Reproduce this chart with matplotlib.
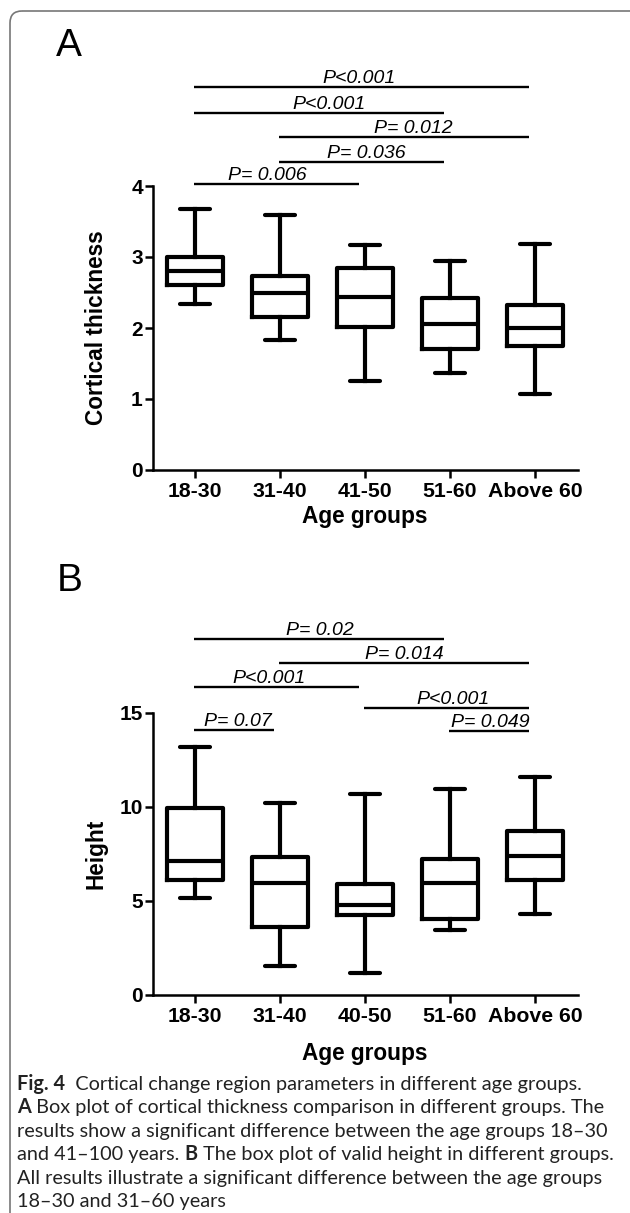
import matplotlib.pyplot as plt
from matplotlib.patches import FancyBboxPatch

plt.rcParams['font.family'] = ['Liberation Sans', 'DejaVu Sans']

W, H = 630, 1213

# ---- panel A: cortical thickness ----
groups_a = ["18-30", "31-40", "41-50", "51-60", "Above 60"]
thick_lo = [2.34, 1.83, 1.25, 1.37, 1.07]
thick_q1 = [2.60, 2.15, 2.02, 1.71, 1.74]
thick_med = [2.80, 2.49, 2.44, 2.06, 2.00]
thick_q3 = [3.00, 2.73, 2.84, 2.42, 2.33]
thick_hi = [3.67, 3.59, 3.17, 2.94, 3.18]

sig_a_from = [1, 1, 2, 2, 1]
sig_a_to = [5, 4, 5, 4, 3]
sig_a_y = [5.40, 5.03, 4.69, 4.34, 4.03]
sig_a_text = ["P<0.001", "P<0.001", "P= 0.012", "P= 0.036", "P= 0.006"]
sig_a_textx = [2.93, 2.58, 3.57, 3.02, 1.85]

# ---- panel B: height ----
groups_b = ["18-30", "31-40", "40-50", "51-60", "Above 60"]
height_lo = [5.16, 1.54, 1.17, 3.47, 4.31]
height_q1 = [6.13, 3.60, 4.27, 4.04, 6.13]
height_med = [7.14, 5.94, 4.80, 5.96, 7.38]
height_q3 = [9.95, 7.32, 5.90, 7.23, 8.74]
height_hi = [13.17, 10.18, 10.67, 10.96, 11.58]

sig_b_from = [1, 2, 1, 3, 1, 4]
sig_b_to = [4, 5, 3, 5, 2, 5]
sig_b_y = [18.94, 17.64, 16.37, 15.23, 14.08, 14.03]
sig_b_text = ["P= 0.02", "P= 0.014", "P<0.001", "P<0.001", "P= 0.07", "P= 0.049"]
sig_b_textx = [2.47, 3.46, 1.87, 4.03, 1.51, 4.48]

caption = [
    [("Fig. 4", "bold"), ("  Cortical change region parameters in different age groups.", "normal")],
    [("A", "bold"), (" Box plot of cortical thickness comparison in different groups. The", "normal")],
    [("results show a significant difference between the age groups 18\u201330", "normal")],
    [("and 41\u2013100 years. ", "normal"), ("B", "bold"), (" The box plot of valid height in different groups.", "normal")],
    [("All results illustrate a significant difference between the age groups", "normal")],
    [("18\u201330 and 31\u201360 years", "normal")],
]


def box_panel(rect, labels, lo, q1, med, q3, hi, ylim, yticks, ylabel,
              s_from, s_to, s_y, s_text, s_x, xlabel_y):
    ax = fig.add_axes(rect)
    stats = []
    for i in range(len(labels)):
        stats.append(dict(whislo=lo[i], q1=q1[i], med=med[i], q3=q3[i],
                          whishi=hi[i], fliers=[]))
    lw = 3.0
    ax.bxp(stats, positions=range(1, len(labels) + 1), widths=0.65,
           capwidths=0.36, showfliers=False,
           boxprops=dict(color='black', linewidth=lw),
           medianprops=dict(color='black', linewidth=lw),
           whiskerprops=dict(color='black', linewidth=lw),
           capprops=dict(color='black', linewidth=lw, solid_capstyle='round'))
    ax.set_xlim(0.5, 5.5)
    ax.set_ylim(*ylim)
    ax.set_yticks(yticks)
    ax.set_xticks(range(1, len(labels) + 1))
    ax.set_xticklabels(labels, fontsize=15.3, fontweight='bold')
    for t in ax.get_yticklabels():
        t.set_fontsize(15)
        t.set_fontweight('bold')
    for s in ['top', 'right']:
        ax.spines[s].set_visible(False)
    for s in ['left', 'bottom']:
        ax.spines[s].set_linewidth(1.8)
    ax.tick_params(axis='both', direction='out', length=5.5, width=1.8)
    ax.tick_params(axis='y', pad=1.5)
    ax.tick_params(axis='x', pad=3)
    ax.set_ylabel(ylabel, fontsize=16.3, fontweight='bold')
    ax.yaxis.set_label_coords(-0.105, 0.5)
    ax.set_xlabel("Age groups", fontsize=16.3, fontweight='bold')
    ax.xaxis.set_label_coords(0.5, xlabel_y)

    for a, b, y, txt, tx in zip(s_from, s_to, s_y, s_text, s_x):
        ax.plot([a - 0.01, b - 0.07], [y, y], color='black', lw=1.7,
                clip_on=False, solid_capstyle='butt')
        ax.text(tx, y, txt, ha='center', va='bottom', fontsize=14,
                style='italic', clip_on=False)
    return ax


fig = plt.figure(figsize=(W / 100, H / 100), dpi=100)

bg = fig.add_axes([0, 0, 1, 1])
bg.set_xlim(0, W)
bg.set_ylim(H, 0)
bg.axis('off')
bg.add_patch(FancyBboxPatch((10, 11), 700, 1300,
                            boxstyle="round,pad=0,rounding_size=12",
                            ec='#777777', fc='none', lw=1.2))

bg.text(56, 56, "A", fontsize=28, va='baseline', ha='left')
bg.text(57, 591, "B", fontsize=28, va='baseline', ha='left')

box_panel([152.5 / W, 1 - 470 / H, 425 / W, 284 / H], groups_a,
          thick_lo, thick_q1, thick_med, thick_q3, thick_hi,
          (0, 4), [0, 1, 2, 3, 4], "Cortical thickness",
          sig_a_from, sig_a_to, sig_a_y, sig_a_text, sig_a_textx, -0.125)

box_panel([152.5 / W, 1 - 995 / H, 425 / W, 282.3 / H], groups_b,
          height_lo, height_q1, height_med, height_q3, height_hi,
          (0, 15), [0, 5, 10, 15], "Height",
          sig_b_from, sig_b_to, sig_b_y, sig_b_text, sig_b_textx, -0.165)

# caption, mixing bold and regular runs on the same line
renderer = fig.canvas.get_renderer()
y = 1090
for line in caption:
    x = 17
    for txt, weight in line:
        t = bg.text(x, y, txt, fontsize=14.3, fontweight=weight,
                    family=['Lato', 'DejaVu Sans'], va='baseline', ha='left',
                    color='#222222')
        x = t.get_window_extent(renderer).x1
    y += 23.4

fig.savefig("out.png", dpi=100)
